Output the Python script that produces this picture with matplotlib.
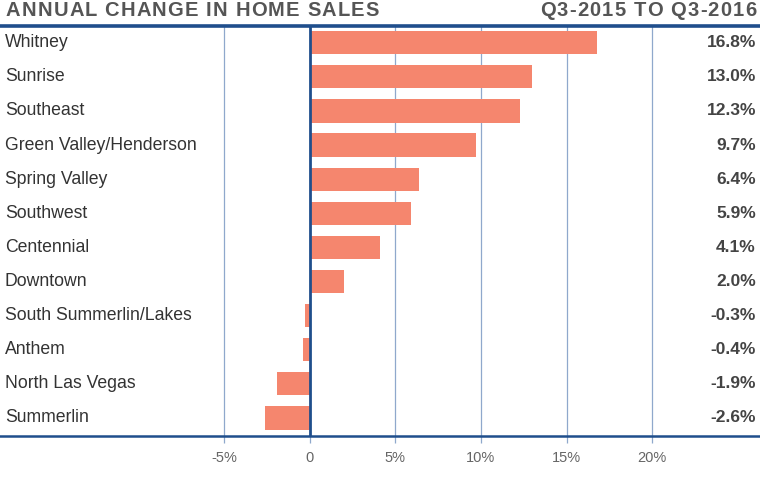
import matplotlib
matplotlib.use("Agg")
import matplotlib.pyplot as plt
from matplotlib.font_manager import FontProperties

regions = ["Whitney", "Sunrise", "Southeast", "Green Valley/Henderson", "Spring Valley",
           "Southwest", "Centennial", "Downtown", "South Summerlin/Lakes", "Anthem",
           "North Las Vegas", "Summerlin"]
changes = [16.8, 13.0, 12.3, 9.7, 6.4, 5.9, 4.1, 2.0, -0.3, -0.4, -1.9, -2.6]
tick_vals = [-5, 0, 5, 10, 15, 20]
tick_labels = ["-5%", "0", "5%", "10%", "15%", "20%"]
title_left = "ANNUAL CHANGE IN HOME SALES"
title_right = "Q3-2015 TO Q3-2016"

plt.rcParams['font.family'] = ['Liberation Sans', 'DejaVu Sans']

W, H = 760, 484
fig = plt.figure(figsize=(W / 100, H / 100), dpi=100)
ax_top, ax_bot = 26, 436
ax = fig.add_axes([0, (H - ax_bot) / H, 1, (ax_bot - ax_top) / H])

bar_color = '#F5866E'
line_color = '#1F4E8C'
grid_color = '#8FA8CC'

y = list(range(len(regions)))
ax.barh(y, changes, height=0.68, color=bar_color, zorder=2)
ax.set_xlim(-18.1, 26.3)
ax.set_ylim(11.53, -0.49)

for v in tick_vals:
    if v != 0:
        ax.axvline(v, color=grid_color, lw=0.9, zorder=1)
ax.axvline(0, color=line_color, lw=2, zorder=3)

for s in ['left', 'right']:
    ax.spines[s].set_visible(False)
ax.spines['top'].set_color(line_color)
ax.spines['top'].set_linewidth(2.6)
ax.spines['bottom'].set_color(line_color)
ax.spines['bottom'].set_linewidth(1.8)

ax.set_yticks([])
ax.set_xticks(tick_vals)
ax.set_xticklabels(tick_labels, color='#666666', fontsize=10.5)
ax.tick_params(axis='x', length=5, width=0.9, color=grid_color, pad=6)

for i, (r, c) in enumerate(zip(regions, changes)):
    ax.text(5 / W, i, r, transform=ax.get_yaxis_transform(), ha='left', va='center',
            fontsize=12.7, color='#333333')
    ax.text(756 / W, i, f"{c:.1f}%", transform=ax.get_yaxis_transform(), ha='right',
            va='center', fontsize=12.5, color='#444444', fontweight='bold')

renderer = fig.canvas.get_renderer()
fp = FontProperties(family=['Liberation Sans'], weight='bold', size=14.5)


def text_w(s):
    w1, _, _ = renderer.get_text_width_height_descent(s + "|", fp, ismath=False)
    w2, _, _ = renderer.get_text_width_height_descent("|", fp, ismath=False)
    return w1 - w2


def spaced_text(s, x0, x1, yc):
    natural = text_w(s)
    gap = (x1 - x0 - natural) / (len(s) - 1)
    for i, ch in enumerate(s):
        if ch == " ":
            continue
        px = x0 + text_w(s[:i]) + i * gap
        fig.text(px / W, 1 - yc / H, ch, ha='left', va='center', fontproperties=fp,
                 color='#555555')


spaced_text(title_left, 6, 379, 11)
spaced_text(title_right, 540, 756, 11)

fig.savefig("out.png", dpi=100)
